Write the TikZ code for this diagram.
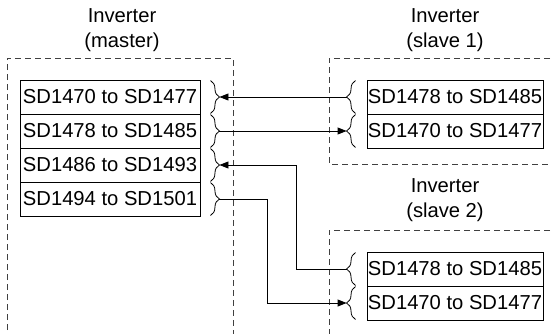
\documentclass[tikz,border=0pt]{standalone}
\usepackage{fontspec}
\setmainfont{Liberation Sans}
\usetikzlibrary{arrows.meta,decorations.pathreplacing}
\begin{document}
\begin{tikzpicture}[x=1pt,y=-1pt,
  reg/.style={draw, line width=0.9pt, minimum width=180pt, minimum height=34pt, inner sep=0pt, font=\fontsize{20.2}{22}\selectfont},
  sreg/.style={reg, minimum width=176pt},
  lbl/.style={align=center, inner sep=0pt, font=\fontsize{20.2}{25}\selectfont},
  frame/.style={draw=black!75, line width=0.9pt, dash pattern=on 6pt off 4pt},
  brc/.style={draw, line width=0.8pt, decorate, decoration={brace, amplitude=9pt}},
  wire/.style={draw, line width=0.9pt},
  arr/.style={wire, -{Triangle[length=9pt,width=7pt]}}]
\useasboundingbox (0,0) rectangle (551,333);
\clip (0,0) rectangle (551,333);
% frames
\draw[frame] (7,340) -- (7,58) -- (233,58) -- (233,340);
\draw[frame] (560,58) -- (329,58) -- (329,164) -- (560,164);
\draw[frame] (560,230) -- (329,230) -- (329,340);
% labels
\node[lbl] (lm) at (122,30.5) {Inverter\\(master)};
\node[lbl] (ls1) at (445,30.5) {Inverter\\(slave 1)};
\node[lbl] (ls2) at (445,200.5) {Inverter\\(slave 2)};
% master registers
\node[reg] (m1) at (110,97) {SD1470 to SD1477};
\node[reg] (m2) at (110,131) {SD1478 to SD1485};
\node[reg] (m3) at (110,165) {SD1486 to SD1493};
\node[reg] (m4) at (110,199) {SD1494 to SD1501};
% slave 1 registers
\node[sreg] (a1) at (455,97) {SD1478 to SD1485};
\node[sreg] (a2) at (455,131) {SD1470 to SD1477};
% slave 2 registers
\node[sreg] (b1) at (455,269) {SD1478 to SD1485};
\node[sreg] (b2) at (455,303) {SD1470 to SD1477};
% master braces
\foreach \n in {m1,m2,m3,m4}{
  \draw[brc] ([xshift=10pt,yshift=-1pt]\n.north east) -- ([xshift=10pt,yshift=1pt]\n.south east);
  \coordinate (\n t) at ([xshift=19pt]\n.east);
}
% slave braces
\foreach \n in {a1,a2,b1,b2}{
  \draw[brc] ([xshift=-11pt,yshift=1pt]\n.south west) -- ([xshift=-11pt,yshift=-1pt]\n.north west);
  \coordinate (\n t) at ([xshift=-20pt]\n.west);
}
% connectors
\draw[arr] (a1t) -- (m1t);
\draw[arr] (m2t) -- (a2t);
\draw[arr] (b1t) -- ++(-50,0) |- (m3t);
\draw[arr] (m4t) -- ++(48,0) |- (b2t);
\end{tikzpicture}
\end{document}
